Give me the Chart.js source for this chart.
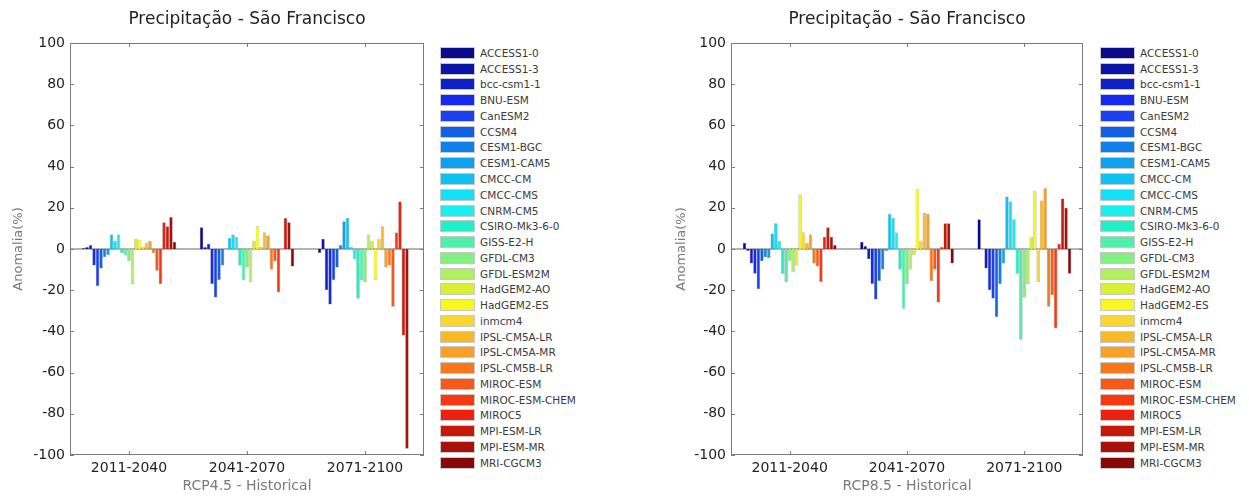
<!DOCTYPE html>
<html lang="pt-BR">
<head>
<meta charset="utf-8">
<title>Precipitação - São Francisco</title>
<script src="https://cdn.jsdelivr.net/npm/chart.js@4.4.1/dist/chart.umd.min.js"></script>
<style>
  html, body { margin: 0; padding: 0; background: #fff; }
  body { font-family: "DejaVu Sans", "Liberation Sans", Arial, sans-serif; }
  #wrap { position: relative; width: 1249px; height: 497px; overflow: hidden; }
  .chartbox { position: absolute; top: 0; height: 497px; }
  .legend { position: absolute; top: 45px; width: 146px; overflow: hidden; }
  .legend .item { height: 15.77px; display: flex; align-items: center; white-space: nowrap; }
  .legend .sw { width: 33px; height: 10px; border: 1px solid #c8c8c8; margin-right: 5px; flex: none; }
  .legend .lb { font-size: 10.5px; color: #3a3a3a; }
</style>
</head>
<body>
<div id="wrap">
  <div class="chartbox" style="left:0;width:430px"><canvas id="c45" width="430" height="497"></canvas></div>
  <div class="legend" id="leg45" style="left:440px"></div>
  <div class="chartbox" style="left:661px;width:428px"><canvas id="c85" width="428" height="497"></canvas></div>
  <div class="legend" id="leg85" style="left:1100px;width:149px"></div>
</div>
<script>
// --- Dados ------------------------------------------------------------------
var PERIODOS = ["2011-2040", "2041-2070", "2071-2100"];

var MODELOS = [
  "ACCESS1-0", "ACCESS1-3", "bcc-csm1-1", "BNU-ESM", "CanESM2", "CCSM4",
  "CESM1-BGC", "CESM1-CAM5", "CMCC-CM", "CMCC-CMS", "CNRM-CM5", "CSIRO-Mk3-6-0",
  "GISS-E2-H", "GFDL-CM3", "GFDL-ESM2M", "HadGEM2-AO", "HadGEM2-ES", "inmcm4",
  "IPSL-CM5A-LR", "IPSL-CM5A-MR", "IPSL-CM5B-LR", "MIROC-ESM", "MIROC-ESM-CHEM",
  "MIROC5", "MPI-ESM-LR", "MPI-ESM-MR", "MRI-CGCM3"
];

// anomalia (%) por modelo, na ordem de MODELOS
var RCP45_2011_2040 = [0.5, 1, 2, -8, -18, -9.5, -4, -3, 7, 4, 7, -2, -3, -6, -17, 5, 4.5, 1, 3, 4, -2, -10.5, -17, 13, 11, 15.5, 3.5];
var RCP45_2041_2070 = [10.5, 1, 2.5, -17, -23.5, -15, -8, 0, 5.5, 7, 6, -8, -15, -9, -16, 4, 11, 1, 8, 6.5, -10, -6, -21, 0, 15, 13, -8.5];
var RCP45_2071_2100 = [-2, 5, -20, -27, -15, -9, 2, 13.5, 15, 1, -5, -24, -15, -16, 7, 4, -15, 5, 11, -9, -8, -28, 8, 23, -42, -97, 0];

var RCP85_2011_2040 = [3, -1, -7, -12, -19.5, -6, -4, -4.5, 7.5, 12.5, 4, -12, -16, -6, -11, -8, 26.5, 8, 3, 7, -7, -8.5, -16, 6, 10.5, 6, 2];
var RCP85_2041_2070 = [3.5, 1.5, -5, -17, -24.5, -15.5, -10, -1, 17, 15, 8, -10, -29, -17, -10, -3, 29, 4, 17.5, 17, -15.5, -10, -26, 1, 12.5, 12.5, -7];
var RCP85_2071_2100 = [14.5, 0, -9.5, -20, -24, -33, -17, -7, 25.5, 23, 14.5, -12, -44, -23.5, -17, 6, 28, -16, 23.5, 29.5, -28, -22.5, -38.5, 2.5, 24.5, 20, -12];

var Y_TICKS = [-100, -80, -60, -40, -20, 0, 20, 40, 60, 80, 100];

var CORES = [
  "#0a0a8c", "#0c14a8", "#1020c8", "#1428ee", "#1a40f0", "#1060e8",
  "#1080e8", "#10a0f0", "#10c0f0", "#10e0f8", "#18f0f0", "#20f0c8",
  "#50f0a8", "#80f080", "#b0f060", "#d8f030", "#f8f820", "#f8d830",
  "#f8b828", "#f8a028", "#f87818", "#f85818", "#f83810", "#f02010",
  "#c81808", "#a81008", "#880808"
];

(function () {
  "use strict";

  var FONTE = "'DejaVu Sans', 'Liberation Sans', Arial, sans-serif";
  var TITULO = "Precipitação - São Francisco";
  var COR_EIXO = "#7c7c7c";

  // eixos no estilo MATLAB: caixa, linha de base no zero, ticks para dentro
  // e título centrado sobre a área do gráfico
  var eixosMatlab = {
    id: "eixosMatlab",
    beforeDatasetsDraw: function (chart) {
      var a = chart.chartArea, y0 = chart.scales.y.getPixelForValue(0), ctx = chart.ctx;
      ctx.save();
      ctx.strokeStyle = "#b4b4b4";
      ctx.lineWidth = 2;
      ctx.beginPath(); ctx.moveTo(a.left, y0); ctx.lineTo(a.right, y0); ctx.stroke();
      ctx.restore();
    },
    afterDraw: function (chart) {
      var a = chart.chartArea, ctx = chart.ctx, sx = chart.scales.x, sy = chart.scales.y, t = 4;
      var l = Math.round(a.left), r = Math.round(a.right), tp = Math.round(a.top), b = Math.round(a.bottom);
      ctx.save();
      ctx.fillStyle = COR_EIXO;
      // caixa (retângulos de 1px)
      ctx.fillRect(l, tp, r - l, 1);
      ctx.fillRect(l, b - 1, r - l, 1);
      ctx.fillRect(l, tp, 1, b - tp);
      ctx.fillRect(r - 1, tp, 1, b - tp);
      Y_TICKS.forEach(function (v) {
        var p = Math.round(sy.getPixelForValue(v));
        ctx.fillRect(l, p, t, 1);
        ctx.fillRect(r - t, p, t, 1);
      });
      PERIODOS.forEach(function (c, i) {
        var p = Math.round(sx.getPixelForValue(i));
        ctx.fillRect(p, b - t, 1, t);
        ctx.fillRect(p, tp, 1, t);
      });

      ctx.fillStyle = "#222";
      ctx.font = "17px " + FONTE;
      ctx.textAlign = "center";
      ctx.textBaseline = "middle";
      ctx.fillText(TITULO, (a.left + a.right) / 2, 20);
      ctx.restore();
    }
  };

  function montaDatasets(series) {
    return MODELOS.map(function (m, k) {
      return {
        label: m,
        data: series.map(function (s) { return s[k]; }),
        backgroundColor: CORES[k],
        borderColor: "rgba(0,0,0,0.45)",
        borderWidth: 0.5,
        categoryPercentage: 0.8,
        barPercentage: 1.0
      };
    });
  }

  function grafico(canvasId, series, xTitulo, yTitPad) {
    return new Chart(document.getElementById(canvasId), {
      type: "bar",
      data: { labels: PERIODOS, datasets: montaDatasets(series) },
      plugins: [eixosMatlab],
      options: {
        responsive: false,
        animation: false,
        layout: { padding: { top: 43, right: 6 } },
        plugins: { legend: { display: false }, tooltip: { enabled: false }, title: { display: false } },
        scales: {
          x: {
            grid: { display: false, drawTicks: false }, border: { display: false },
            ticks: { color: "#222", font: { family: FONTE, size: 14 }, padding: 5 },
            title: { display: true, text: xTitulo, color: "#7a7a7a", font: { family: FONTE, size: 14 }, padding: { top: 0, bottom: 2 } },
            afterFit: function (s) { s.height = 42; }
          },
          y: {
            min: -100, max: 100,
            grid: { display: false, drawTicks: false }, border: { display: false },
            afterBuildTicks: function (s) { s.ticks = Y_TICKS.map(function (v) { return { value: v }; }); },
            ticks: { color: "#222", font: { family: FONTE, size: 14 }, padding: 5 },
            title: { display: true, text: "Anomalia(%)", color: "#7a7a7a", font: { family: FONTE, size: 13 }, padding: { top: yTitPad, bottom: 0 } },
            afterFit: function (s) { s.width = 70; }
          }
        }
      }
    });
  }

  function legenda(elId) {
    var el = document.getElementById(elId);
    el.innerHTML = MODELOS.map(function (m, k) {
      return '<div class="item"><span class="sw" style="background:' + CORES[k] + '"></span><span class="lb">' + m + "</span></div>";
    }).join("");
  }

  grafico("c45", [RCP45_2011_2040, RCP45_2041_2070, RCP45_2071_2100], "RCP4.5 - Historical", 11);
  grafico("c85", [RCP85_2011_2040, RCP85_2041_2070, RCP85_2071_2100], "RCP8.5 - Historical", 13);
  legenda("leg45");
  legenda("leg85");
})();
</script>
</body>
</html>
